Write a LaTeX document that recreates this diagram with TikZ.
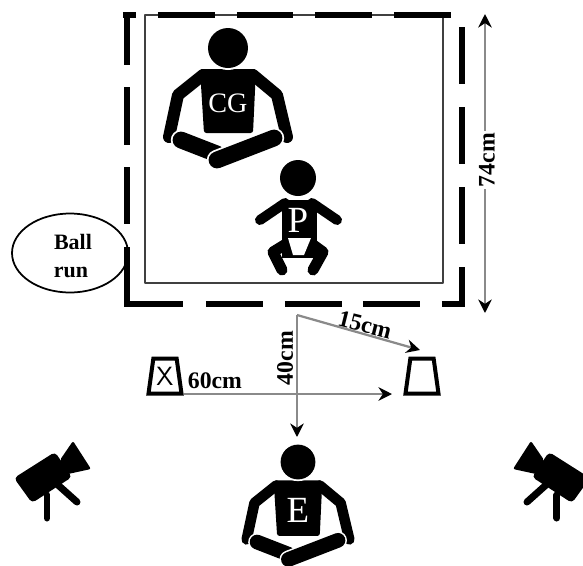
\documentclass[tikz,border=0pt]{standalone}
\usepackage{fontspec}
\setmainfont{Liberation Serif}
\usepackage{tikz}
\usetikzlibrary{arrows.meta,shapes.geometric,positioning}
\definecolor{DimGray}{HTML}{8A8A8A}
\tikzset{
  tip/.tip={Stealth[black,length=0.27cm,width=0.27cm]},
  dimline/.style={DimGray, line width=0.045cm, -tip},
  dimlabel/.style={font=\bfseries\fontsize{13.5}{14}\selectfont, inner sep=1pt},
  marker/.style={trapezium, draw=black, line width=0.08cm, trapezium left angle=79,
    trapezium right angle=79, minimum height=0.7cm, minimum width=0.66cm, inner sep=0pt,
    trapezium stretches=true, font=\fontsize{15}{15}\selectfont\sffamily},
  fence/.style={line width=0.13cm},
  limb/.style={line cap=round, line join=round},
  sitter/.pic={
    \fill[rounded corners=0.05cm] (-28,21) -- (28,21) -- (25,85) -- (-24,85) -- cycle;
    \draw[limb, line width=\lw] (-25,27) -- (-50,47) -- (-59,89);
    \draw[limb, line width=\lw] (25,27) -- (49,47) -- (59,89);
    \fill[white] (0,0) circle (22);
    \fill (0,0) circle (20);
    % crossed legs
    \draw[limb, white, line width=\lw*1.7] (-47,92) -- (-11,106);
    \draw[limb, line width=\lw*1.4] (-47,92) -- (-11,106);
    \draw[limb, white, line width=\lw*1.7] (-11,112) -- (46,90);
    \draw[limb, line width=\lw*1.4] (-11,112) -- (46,90);
  },
  baby/.pic={
    \fill (-16,22) -- (19,22) -- (19,64) -- (-16,64) -- cycle;
    \draw[limb, line width=0.2cm] (-13,25) -- (-38,42);
    \draw[limb, line width=0.2cm] (14,25) -- (39,42);
    \fill (-16,58) -- (19,58) -- (19,80) -- (-16,80) -- cycle;
    \draw[limb, line width=0.22cm] (-12,66) -- (-25,74) -- (-16,92);
    \draw[limb, line width=0.22cm] (14,66) -- (25,74) -- (15,92);
    \fill[white] (-10,60) -- (13,60) -- (6,77) -- (-5,77) -- cycle;
    \fill[white] (0,0) circle (20);
    \fill (0,0) circle (18);
  },
  videocam/.pic={
    \fill[rounded corners=0.08cm] (14,478) -- (55,452) -- (72,477) -- (32,503) -- cycle;
    \fill[rounded corners=0.04cm] (60,460) -- (73,441) -- (91,469) -- (68,474) -- cycle;
    \draw[limb, line width=0.14cm] (47,495) -- (47,518);
    \draw[limb, line width=0.14cm] (58,485) -- (77,502);
  }
}
\begin{document}
\begin{tikzpicture}[x=0.02cm,y=-0.02cm]
  \clip (0,0) rectangle (583,566);
  % Ball run
  \node[ellipse, draw, line width=0.035cm, minimum width=2.32cm, minimum height=1.58cm,
    inner sep=0pt] (ball) at (70,253) {};
  \node[font=\bfseries\fontsize{12.5}{13}\selectfont] (ballA) at (73,242) {Ball};
  \node[font=\bfseries\fontsize{12.5}{13}\selectfont] (ballB) at (71,272) {run};
  % Inner mat
  \draw[black!75, line width=0.045cm, line join=round] (145,15) rectangle (443,283);
  % Dashed fence
  \foreach \a/\b in {158/215,237/293,315/372,394/451}
    \draw[fence] (\a,15) -- (\b,15);
  \foreach \a/\b in {27/84,107/164,187/244}
    \draw[fence] (462,\a) -- (462,\b);
  \foreach \a/\b in {14/65,87/145,167/224}
    \draw[fence] (127,\a) -- (127,\b);
  \draw[fence] (123,15) -- (136,15);
  \draw[fence] (127,247) -- (127,304) -- (183,304);
  \foreach \a/\b in {206/263,285/342,363/420}
    \draw[fence] (\a,304) -- (\b,304);
  \draw[fence] (442,304) -- (462,304) -- (462,267);
  % People
  \def\lw{0.24cm}
  \pic (cg) at (228,48) {sitter};
  \node[white, font=\fontsize{16}{16}\selectfont] (cgText) at (228,103) {CG};
  \pic (child) at (298,178) {baby};
  \node[white, font=\fontsize{21}{21}\selectfont] (childText) at (298,220) {P};
  \def\lw{0.21cm}
  \pic[scale=0.87] (exp) at (298,462) {sitter};
  \node[white, font=\fontsize{21}{21}\selectfont] (expText) at (298,510) {E};
  % Cameras
  \pic (camL) at (0,0) {videocam};
  \pic[xscale=-1] (camR) at (604,0) {videocam};
  % Cups
  \node[marker] (cupX) at (165,376) {X};
  \node[marker] (cupO) at (422,376) {\phantom{X}};
  % Distances
  \coordinate (apex) at (297,315);
  \coordinate (eye) at (297,437);
  \coordinate (cupTop) at (420,350);
  \coordinate (cupFoot) at (392,394);
  \coordinate (dimTop) at (485,14);
  \coordinate (dimBot) at (485,313);
  \draw[dimline] (apex) -- (eye);
  \draw[dimline] (apex) -- (cupTop);
  \draw[dimline] (cupX.bottom right corner |- cupFoot) -- (cupFoot);
  \draw[dimline, tip-tip] (dimTop) -- (dimBot);
  \node[dimlabel, rotate=90, fill=white] (dimH) at (487,160) {74cm};
  \node[dimlabel] (dimSixty) at (215,381) {60cm};
  \node[dimlabel, rotate=90] (dimForty) at (285,358) {40cm};
  \node[dimlabel, rotate=-14] (dimFifteen) at (365,325) {15cm};
\end{tikzpicture}
\end{document}
